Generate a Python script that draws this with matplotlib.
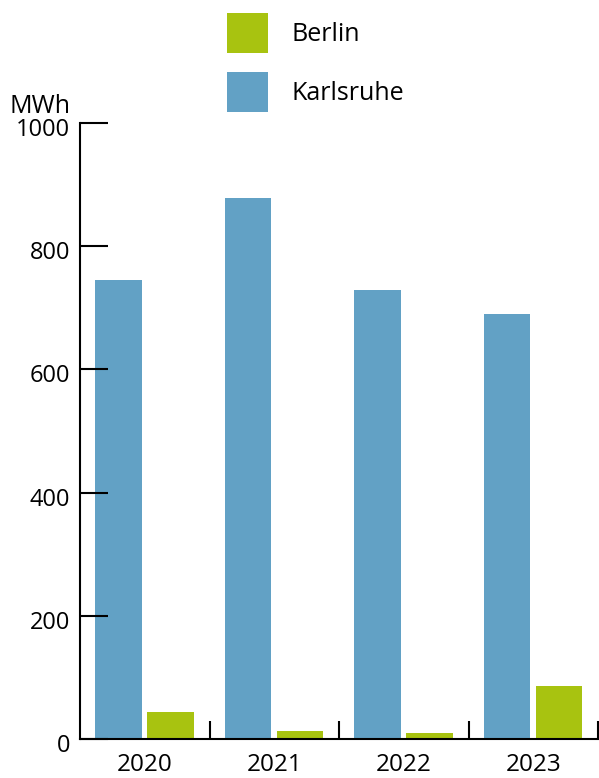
import numpy as np
import matplotlib
matplotlib.use("Agg")
import matplotlib.pyplot as plt
import matplotlib.transforms as mtransforms
from matplotlib.patches import Patch

plt.rcParams['font.family'] = ['Open Sans', 'DejaVu Sans']

# data
years = ['2020', '2021', '2022', '2023']
karlsruhe = [745, 878, 729, 690]
berlin = [44, 13, 10, 86]
yticks = [0, 200, 400, 600, 800, 1000]

blue = '#62a1c5'
green = '#a8c310'

fig = plt.figure(figsize=(5.99, 7.78), dpi=100)
ax = fig.add_axes([80 / 599, 39 / 778, 518 / 599, 616 / 778])

x = np.arange(len(years)) + 0.5
w = 0.36
ax.bar(x - 0.203, karlsruhe, width=w, color=blue, linewidth=0)
ax.bar(x + 0.2, berlin, width=w, color=green, linewidth=0)

ax.set_xlim(0, len(years))
ax.set_ylim(0, 1000)

for s in ['top', 'right']:
    ax.spines[s].set_visible(False)
for s in ['left', 'bottom']:
    ax.spines[s].set_linewidth(1.5)
    ax.spines[s].set_color('black')

ax.set_yticks(yticks)
ax.set_yticklabels([str(v) for v in yticks])
ax.tick_params(axis='y', direction='in', length=20, width=1.5, pad=7,
               labelsize=17, colors='black')
# nudge y labels a little lower, as in the reference
shift = mtransforms.ScaledTranslation(0, -4 / 100, fig.dpi_scale_trans)
for lab in ax.get_yticklabels():
    lab.set_transform(lab.get_transform() + shift)

ax.set_xticks(x)
ax.set_xticklabels(years)
ax.tick_params(axis='x', which='major', length=0, pad=10, labelsize=17.5)
ax.set_xticks(np.arange(1, len(years) + 1), minor=True)
ax.tick_params(axis='x', which='minor', direction='in', length=13, width=1.5,
               colors='black')

fig.text(10 / 599, 1 - 113 / 778, 'MWh', fontsize=18, ha='left',
         va='baseline')

handles = [Patch(facecolor=green, edgecolor='none', label='Berlin'),
           Patch(facecolor=blue, edgecolor='none', label='Karlsruhe')]
fs = 18
fpx = fs * 100 / 72
fig.legend(handles=handles, loc='upper left',
           bbox_to_anchor=(227 / 599, 1 - 13 / 778),
           frameon=False, fontsize=fs, borderpad=0, borderaxespad=0,
           handlelength=41 / fpx, handleheight=41 / fpx * 41 / 32,
           handletextpad=0.95, labelspacing=0.75)

fig.savefig('out.png', dpi=100)
